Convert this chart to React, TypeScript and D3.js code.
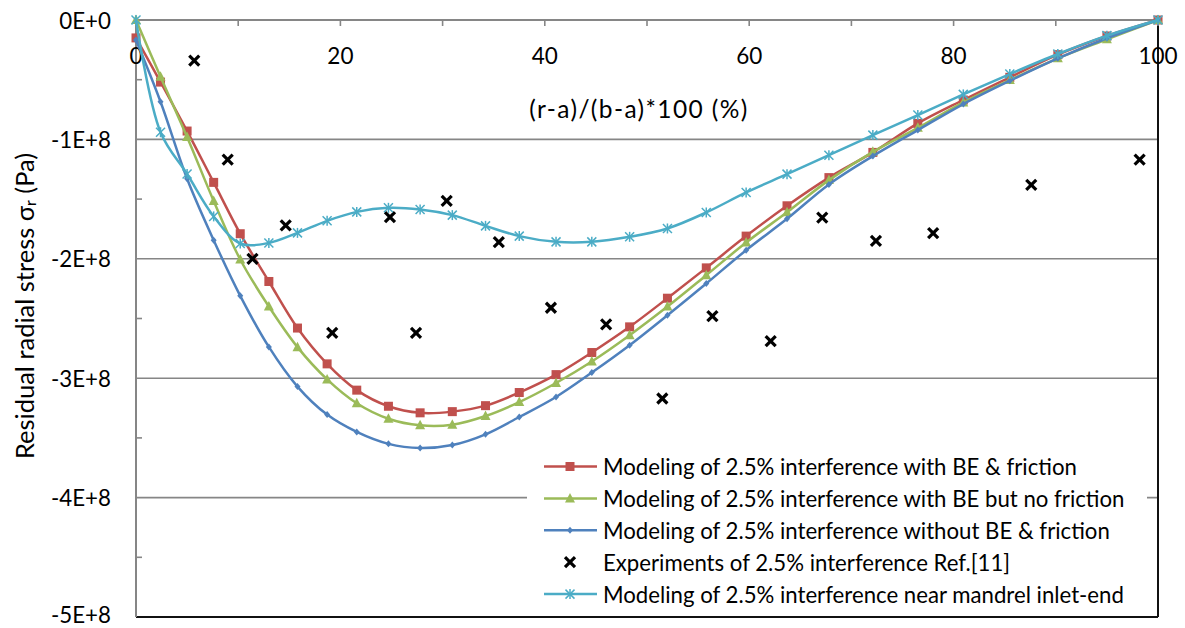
import React from "react";
import * as d3 from "d3";

// Normalised radial position (r-a)/(b-a)*100, shared by all modelled series
const positions = [
  0, 2.4, 5.0, 7.6, 10.2, 13.0, 15.8, 18.7, 21.6, 24.7, 27.8, 30.95, 34.2, 37.5,
  41.1, 44.6, 48.3, 52.0, 55.8, 59.7, 63.7, 67.8, 72.1, 76.5, 80.95, 85.5, 90.2,
  95.0, 100,
];

// Residual radial stress in units of 1E+8 Pa
const withBEFriction = [
  -0.15, -0.52, -0.93, -1.36, -1.79, -2.19, -2.58, -2.88, -3.1, -3.235, -3.29,
  -3.28, -3.23, -3.12, -2.97, -2.785, -2.57, -2.33, -2.076, -1.81, -1.556, -1.32,
  -1.109, -0.866, -0.67, -0.48, -0.29, -0.134, 0,
];
const withBENoFriction = [
  0, -0.475, -0.98, -1.515, -2.006, -2.4, -2.74, -3.01, -3.21, -3.34, -3.395,
  -3.39, -3.317, -3.2, -3.04, -2.86, -2.64, -2.4, -2.137, -1.864, -1.61, -1.341,
  -1.104, -0.903, -0.69, -0.503, -0.321, -0.162, 0,
];
const withoutBEFriction = [
  -0.168, -0.685, -1.33, -1.844, -2.31, -2.738, -3.07, -3.305, -3.45, -3.55,
  -3.585, -3.56, -3.47, -3.325, -3.157, -2.953, -2.724, -2.473, -2.207, -1.928,
  -1.665, -1.377, -1.14, -0.922, -0.704, -0.509, -0.321, -0.153, 0,
];
const nearInletEnd = [
  0, -0.94, -1.29, -1.645, -1.872, -1.867, -1.783, -1.682, -1.607, -1.573,
  -1.587, -1.634, -1.724, -1.81, -1.858, -1.858, -1.816, -1.746, -1.612, -1.444,
  -1.291, -1.132, -0.964, -0.796, -0.623, -0.453, -0.285, -0.131, 0,
];

// Experimental measurements, Ref.[11]
const expPositions = [
  5.7, 8.97, 11.4, 14.65, 19.2, 24.85, 27.4, 30.4, 35.5, 40.6, 46.0, 51.5, 56.4,
  62.1, 67.15, 72.4, 78.0, 87.6, 98.2,
];
const expStress = [
  -0.34, -1.17, -2.0, -1.72, -2.62, -1.65, -2.62, -1.515, -1.86, -2.41, -2.55,
  -3.17, -2.48, -2.69, -1.655, -1.85, -1.785, -1.38, -1.17,
];

const UNIT = 1e8;
const xTicks = [0, 20, 40, 60, 80, 100];
const xMinorTicks = [10, 30, 50, 70, 90];
const yTicks = [0, -1e8, -2e8, -3e8, -4e8, -5e8];
const yMinorTicks = [-0.5e8, -1.5e8, -2.5e8, -3.5e8, -4.5e8];

const legendLabels = [
  "Modeling of 2.5% interference with BE & friction",
  "Modeling of 2.5% interference with BE but no friction",
  "Modeling of 2.5% interference without BE & friction",
  "Experiments of 2.5% interference Ref.[11]",
  "Modeling of 2.5% interference near mandrel inlet-end",
];

const RED = "#C0504D";
const GREEN = "#9BBB59";
const BLUE = "#4F81BD";
const CYAN = "#4BACC6";
const AXIS_GRAY = "#868686";
const FONT = "Lato, 'Open Sans', sans-serif";

const W = 1185;
const H = 628;

const x = d3.scaleLinear().domain([0, 100]).range([136, 1158]);
const y = d3.scaleLinear().domain([-5e8, 0]).range([617, 20]);

type Pt = [number, number];
const toPoints = (vals: number[]): Pt[] =>
  vals.map((v, i) => [positions[i], v * UNIT] as Pt);

const line = d3
  .line<Pt>()
  .x((d) => x(d[0]))
  .y((d) => y(d[1]))
  .curve(d3.curveCatmullRom.alpha(0.5));

function Square({ cx, cy, color }: { cx: number; cy: number; color: string }) {
  return <rect x={cx - 4.5} y={cy - 4.5} width={9} height={9} fill={color} />;
}
function Triangle({ cx, cy, color }: { cx: number; cy: number; color: string }) {
  return (
    <path
      d={`M${cx},${cy - 5.5}L${cx + 5},${cy + 4}L${cx - 5},${cy + 4}Z`}
      fill={color}
    />
  );
}
function Diamond({ cx, cy, color }: { cx: number; cy: number; color: string }) {
  return (
    <path
      d={`M${cx},${cy - 3.5}L${cx + 3},${cy}L${cx},${cy + 3.5}L${cx - 3},${cy}Z`}
      fill={color}
    />
  );
}
function Asterisk({ cx, cy, color }: { cx: number; cy: number; color: string }) {
  const r = 4.5;
  return (
    <g stroke={color} strokeWidth={1.5}>
      <line x1={cx - r} y1={cy - r} x2={cx + r} y2={cy + r} />
      <line x1={cx - r} y1={cy + r} x2={cx + r} y2={cy - r} />
      <line x1={cx} y1={cy - r - 0.5} x2={cx} y2={cy + r + 0.5} />
    </g>
  );
}
function Cross({ cx, cy }: { cx: number; cy: number }) {
  const r = 5;
  return (
    <g stroke="#000" strokeWidth={3.2}>
      <line x1={cx - r} y1={cy - r} x2={cx + r} y2={cy + r} />
      <line x1={cx - r} y1={cy + r} x2={cx + r} y2={cy - r} />
    </g>
  );
}

const series = [
  { vals: withBEFriction, color: RED, Marker: Square },
  { vals: withBENoFriction, color: GREEN, Marker: Triangle },
  { vals: withoutBEFriction, color: BLUE, Marker: Diamond },
];

export default function App() {
  const fmtY = (v: number) => (v === 0 ? "0E+0" : `-${Math.abs(v) / UNIT}E+8`);
  const legendY = (i: number) => 466.5 + i * 31.9;
  const markerFor = [Square, Triangle, Diamond, null, Asterisk];
  const colorFor = [RED, GREEN, BLUE, "#000", CYAN];

  return (
    <svg
      width={W}
      height={H}
      style={{ position: "absolute", left: 0, top: 0, background: "#fff" }}
      fontFamily={FONT}
    >
      {/* horizontal gridlines */}
      {yTicks.slice(1, -1).map((t) => (
        <line
          key={t}
          x1={x(0)}
          x2={x(100)}
          y1={y(t)}
          y2={y(t)}
          stroke={AXIS_GRAY}
          strokeWidth={1.6}
        />
      ))}

      {/* plot area border (right and bottom) */}
      <line x1={x(100)} x2={x(100)} y1={y(0)} y2={y(-5e8)} stroke="#111" strokeWidth={2} />
      <line x1={x(0)} x2={x(100)} y1={y(-5e8)} y2={y(-5e8)} stroke="#111" strokeWidth={2} />

      {/* y axis */}
      <line x1={x(0)} x2={x(0)} y1={y(0)} y2={y(-5e8)} stroke={AXIS_GRAY} strokeWidth={2} />
      {yMinorTicks.map((t) => (
        <line key={t} x1={x(0)} x2={x(0) + 6} y1={y(t)} y2={y(t)} stroke={AXIS_GRAY} strokeWidth={1.6} />
      ))}
      {yTicks.map((t) => (
        <text
          key={t}
          x={111}
          y={Math.min(y(t), 614)}
          textAnchor="end"
          dominantBaseline="central"
          fontSize={22.3}
          fill="#000"
        >
          {fmtY(t)}
        </text>
      ))}

      {/* x axis along the top (zero stress) */}
      <line x1={x(0)} x2={x(100)} y1={y(0)} y2={y(0)} stroke={AXIS_GRAY} strokeWidth={2} />
      {[...xTicks, ...xMinorTicks].map((t) => (
        <line key={t} x1={x(t)} x2={x(t)} y1={y(0)} y2={y(0) + 6} stroke={AXIS_GRAY} strokeWidth={1.6} />
      ))}
      {xTicks.map((t) => (
        <text
          key={t}
          x={x(t)}
          y={55}
          textAnchor="middle"
          dominantBaseline="central"
          fontSize={22.5}
          fill="#000"
        >
          {t}
        </text>
      ))}
      <text
        x={639}
        y={108}
        textAnchor="middle"
        dominantBaseline="central"
        fontSize={24.5}
        letterSpacing={1.4}
        fill="#000"
      >
        (r-a)/(b-a)*100 (%)
      </text>

      {/* y axis title */}
      <text
        transform={`translate(24,306) rotate(-90)`}
        textAnchor="middle"
        dominantBaseline="central"
        fontSize={25.5}
        fill="#000"
      >
        Residual radial stress σ
        <tspan fontSize={16} dy={5}>r</tspan>
        <tspan dy={-5}> (Pa)</tspan>
      </text>

      {/* modelled series */}
      {series.map((s, si) => {
        const pts = toPoints(s.vals);
        return (
          <g key={si}>
            <path d={line(pts) || ""} fill="none" stroke={s.color} strokeWidth={2.5} />
            {pts.map((p, i) => (
              <s.Marker key={i} cx={x(p[0])} cy={y(p[1])} color={s.color} />
            ))}
          </g>
        );
      })}

      {/* experiments */}
      {expPositions.map((p, i) => (
        <Cross key={i} cx={x(p)} cy={y(expStress[i] * UNIT)} />
      ))}

      {/* near inlet-end series */}
      {(() => {
        const pts = toPoints(nearInletEnd);
        return (
          <g>
            <path d={line(pts) || ""} fill="none" stroke={CYAN} strokeWidth={2.5} />
            {pts.map((p, i) => (
              <Asterisk key={i} cx={x(p[0])} cy={y(p[1])} color={CYAN} />
            ))}
          </g>
        );
      })()}

      {/* legend */}
      <rect x={527} y={440} width={620} height={172} fill="#fff" />
      {legendLabels.map((lab, i) => {
        const ly = legendY(i);
        const M = markerFor[i];
        return (
          <g key={i}>
            {M ? (
              <>
                <line x1={544} x2={597} y1={ly} y2={ly} stroke={colorFor[i]} strokeWidth={2.5} />
                <M cx={570} cy={ly} color={colorFor[i]} />
              </>
            ) : (
              <Cross cx={570} cy={ly} />
            )}
            <text x={603} y={ly} dominantBaseline="central" fontSize={22.2} fill="#000">
              {lab}
            </text>
          </g>
        );
      })}
    </svg>
  );
}
